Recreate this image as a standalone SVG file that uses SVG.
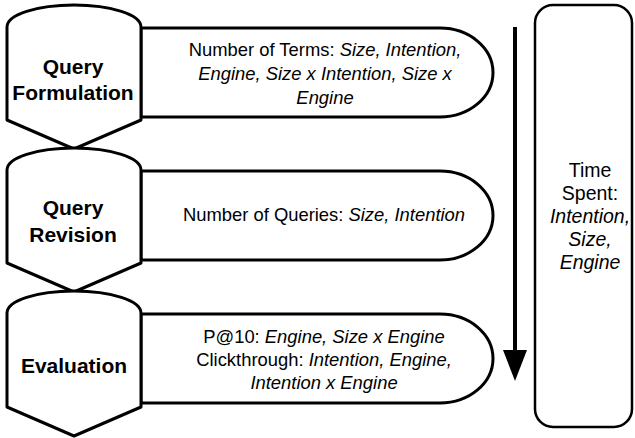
<svg xmlns="http://www.w3.org/2000/svg" width="635" height="438" viewBox="0 0 635 438">
<style>
.shape{fill:#fff;stroke:#000;stroke-width:3;stroke-linejoin:round}
.title{font-family:"Liberation Sans",Arial,sans-serif;font-weight:bold;font-size:21px;text-anchor:middle;fill:#000}
.body{font-family:"Liberation Sans",Arial,sans-serif;font-size:18.4px;text-anchor:middle;fill:#000}
.side{font-family:"Liberation Sans",Arial,sans-serif;font-size:19.5px;text-anchor:middle;fill:#000}
.it{font-style:italic}
</style>
<rect width="635" height="438" fill="#fff"/>
<g id="stage-formulation">
<path class="shape" d="M141,28 H440 A53,44.5 0 0 1 440,117 H141 Z"/>
<path class="shape" d="M7,27 A67,22 0 0 1 141,27 V120 L74,149 L7,120 Z"/>
<text class="title" x="73" y="74">Query</text>
<text class="title" x="73" y="100">Formulation</text>
<text class="body" x="325" y="56">Number of Terms: <tspan class="it">Size, Intention,</tspan></text>
<text class="body it" x="325" y="80">Engine, Size x Intention, Size x</text>
<text class="body it" x="325" y="104">Engine</text>
</g>
<g id="stage-revision">
<path class="shape" d="M141,171 H440 A53,44.5 0 0 1 440,260 H141 Z"/>
<path class="shape" d="M7,170 A67,22 0 0 1 141,170 V263 L74,292 L7,263 Z"/>
<text class="title" x="73" y="215">Query</text>
<text class="title" x="73" y="242">Revision</text>
<text class="body" x="324" y="221">Number of Queries: <tspan class="it">Size, Intention</tspan></text>
</g>
<g id="stage-evaluation">
<path class="shape" d="M141,314 H440 A53,44.5 0 0 1 440,403 H141 Z"/>
<path class="shape" d="M7,313 A67,22 0 0 1 141,313 V407 L74,436 L7,407 Z"/>
<text class="title" x="74" y="373">Evaluation</text>
<text class="body" x="324" y="343">P@10: <tspan class="it">Engine, Size x Engine</tspan></text>
<text class="body" x="324" y="366">Clickthrough: <tspan class="it">Intention, Engine,</tspan></text>
<text class="body it" x="324" y="389">Intention x Engine</text>
</g>
<g id="time-spent">
<rect x="535" y="5" width="97" height="422" rx="18" ry="18" fill="#fff" stroke="#000" stroke-width="2.5"/>
<text class="side" x="590" y="177">Time</text>
<text class="side" x="590" y="200">Spent:</text>
<text class="side it" x="590" y="223">Intention,</text>
<text class="side it" x="590" y="246">Size,</text>
<text class="side it" x="590" y="269">Engine</text>
</g>
<g id="connectors">
<line x1="515" y1="27" x2="515" y2="352" stroke="#000" stroke-width="4"/>
<polygon points="503,350 527,350 515,381" fill="#000"/>
</g>
</svg>
